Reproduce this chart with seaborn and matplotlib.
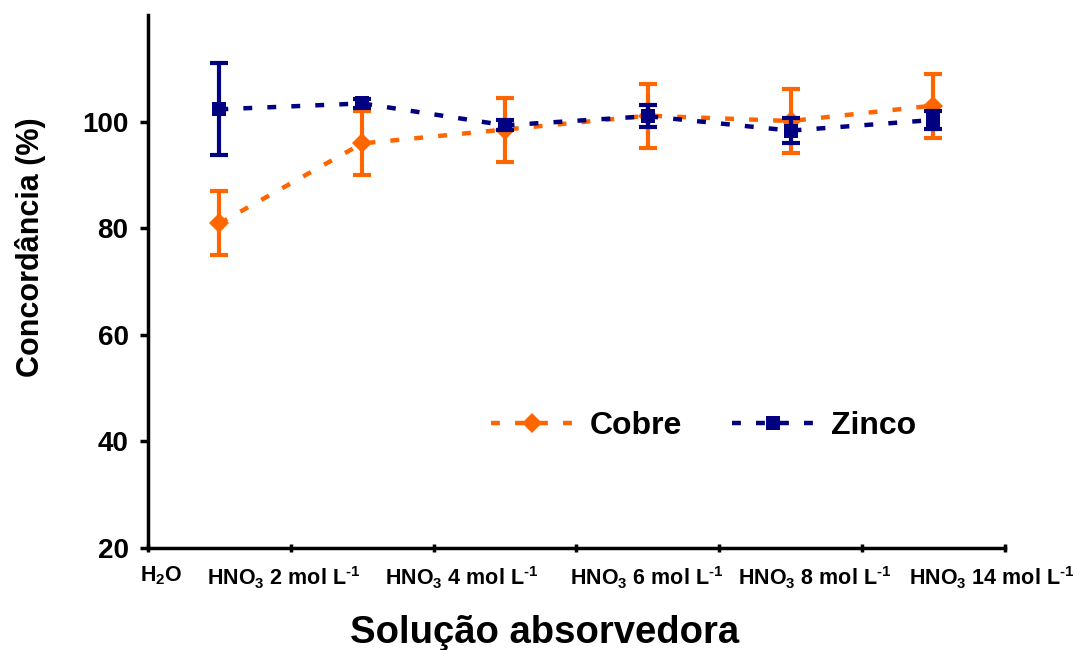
import numpy as np
import pandas as pd
import matplotlib
matplotlib.use("Agg")
import matplotlib.pyplot as plt
from matplotlib.lines import Line2D
import seaborn as sns

# dados
categorias = ["H$_2$O", "HNO$_3$ 2 mol L$^{\\text{-}1}$", "HNO$_3$ 4 mol L$^{\\text{-}1}$",
              "HNO$_3$ 6 mol L$^{\\text{-}1}$", "HNO$_3$ 8 mol L$^{\\text{-}1}$",
              "HNO$_3$ 14 mol L$^{\\text{-}1}$"]
cobre = [80.9, 95.9, 98.5, 101.1, 100.1, 103.0]
cobre_err = [6.0, 6.0, 6.0, 6.0, 6.0, 6.0]
zinco = [102.3, 103.4, 99.3, 101.0, 98.3, 100.3]
zinco_err = [8.6, 0.9, 0.9, 2.1, 2.4, 1.7]

sns.set_style("white")
plt.rcParams['font.family'] = ['Liberation Sans', 'DejaVu Sans']
plt.rcParams['font.weight'] = 'bold'
plt.rcParams['text.color'] = 'black'
plt.rcParams['axes.labelcolor'] = 'black'
plt.rcParams['xtick.color'] = 'black'
plt.rcParams['ytick.color'] = 'black'
plt.rcParams['mathtext.fontset'] = 'custom'
plt.rcParams['mathtext.rm'] = 'Liberation Sans:bold'
plt.rcParams['mathtext.bf'] = 'Liberation Sans:bold'
plt.rcParams['mathtext.default'] = 'bf'

pos = np.arange(len(categorias))
df = pd.DataFrame({
    "pos": np.concatenate([pos, pos]),
    "valor": cobre + zinco,
    "serie": ["Cobre"] * len(pos) + ["Zinco"] * len(pos),
})

cores = {"Cobre": "#FF6600", "Zinco": "#000080"}
marcas = {"Cobre": "D", "Zinco": "s"}
tracos = [2.0, 3.4]

fig, ax = plt.subplots(figsize=(10.84, 6.5), dpi=100)
fig.subplots_adjust(left=0.1365, right=0.927, top=0.977, bottom=0.157)

# barras de erro + linhas
ax.errorbar(pos, cobre, yerr=cobre_err, fmt="none", ecolor=cores["Cobre"],
            elinewidth=3, capsize=6.5, capthick=3, zorder=2)
sns.lineplot(data=df[df.serie == "Cobre"], x="pos", y="valor", color=cores["Cobre"],
             marker="D", markersize=10, markeredgewidth=0, linewidth=3.2,
             dashes=False, ax=ax, zorder=3)
ax.lines[-1].set_dashes(tracos)

ax.errorbar(pos, zinco, yerr=zinco_err, fmt="none", ecolor=cores["Zinco"],
            elinewidth=3, capsize=6.5, capthick=3, zorder=4)
sns.lineplot(data=df[df.serie == "Zinco"], x="pos", y="valor", color=cores["Zinco"],
             marker="s", markersize=9.5, markeredgewidth=0, linewidth=3.2,
             dashes=False, ax=ax, zorder=5)
ax.lines[-1].set_dashes(tracos)

ax.set_xlim(-0.5, len(categorias) - 0.5)
ax.set_ylim(20, 120)
ax.set_yticks([20, 40, 60, 80, 100])
ax.tick_params(axis="y", labelsize=20, width=2.5, length=6, direction="out", left=True, pad=8)

# rotulos do eixo x deslocados como no original
pos_rotulos = [-0.41, 0.45, 1.70, 2.99, 4.17, 5.41]
ax.set_xticks(pos_rotulos)
ax.set_xticklabels(categorias)
ax.tick_params(axis="x", labelsize=15.5, length=0, pad=12)
ax.set_xticks(np.arange(-0.5, len(categorias)), minor=True)
ax.tick_params(axis="x", which="minor", length=6, width=2.5, direction="inout", bottom=True)

for s in ["top", "right"]:
    ax.spines[s].set_visible(False)
for s in ["left", "bottom"]:
    ax.spines[s].set_linewidth(2.5)
    ax.spines[s].set_color("black")

ax.set_xlabel("Solução absorvedora", fontsize=27.5, fontweight="bold")
ax.xaxis.set_label_coords(0.463, -0.126)
ax.set_ylabel("Concordância (%)", fontsize=22, fontweight="bold")
ax.yaxis.set_label_coords(-0.137, 0.565)
ax.yaxis.label.set_va("center")

handles = [Line2D([0], [0], color=cores[k], marker=marcas[k], markersize=10,
                  markeredgewidth=0, linewidth=3.2, dashes=tracos) for k in ["Cobre", "Zinco"]]
ax.legend(handles, ["Cobre", "Zinco"], loc="center", bbox_to_anchor=(0.648, 0.228),
          ncol=2, frameon=False, fontsize=23, handlelength=2.6, columnspacing=1.55,
          handletextpad=0.5)

fig.savefig("out.png", dpi=100)
